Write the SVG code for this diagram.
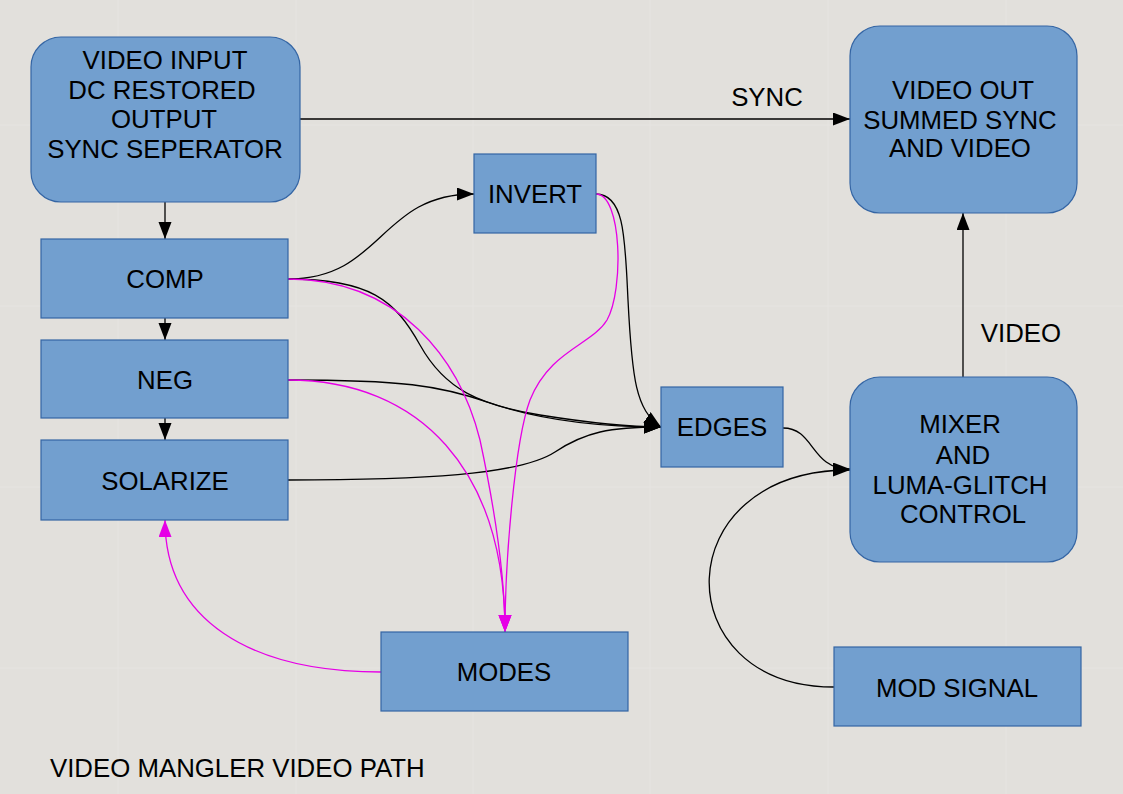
<svg xmlns="http://www.w3.org/2000/svg" width="1123" height="794" viewBox="0 0 1123 794">
<defs>
<style>
.bg{fill:#e2e0dc}
.grid{stroke:#f2f1ef;stroke-width:1;opacity:0.3}
.box{fill:#729fcf;stroke:#3465a4;stroke-width:1.2}
.t{font-family:"Liberation Sans",Arial,sans-serif;font-size:25.8px;fill:#000;text-anchor:middle}
.tl{font-family:"Liberation Sans",Arial,sans-serif;font-size:25.8px;fill:#000}
.k{fill:none;stroke:#000;stroke-width:1.3}
.m{fill:none;stroke:#e600e6;stroke-width:1.3}
</style>
<marker id="ak" markerUnits="userSpaceOnUse" markerWidth="18" markerHeight="14" refX="17" refY="6.5" orient="auto"><path d="M0,0 L17,6.5 L0,13 z" fill="#000"/></marker>
<marker id="am" markerUnits="userSpaceOnUse" markerWidth="18" markerHeight="14" refX="17" refY="6.5" orient="auto"><path d="M0,0 L17,6.5 L0,13 z" fill="#e600e6"/></marker>
</defs>
<rect class="bg" x="0" y="0" width="1123" height="794"/>
<g id="texture">
<path class="grid" d="M118,0V794M296,0V794M473,0V794M650,0V794M828,0V794M1006,0V794M0,125H1123M0,306H1123M0,487H1123M0,668H1123"/>
</g>
<g id="connectors">
<path class="k" d="M165,202 V239" marker-end="url(#ak)"/>
<path class="k" d="M165,318 V340" marker-end="url(#ak)"/>
<path class="k" d="M165,418 V440" marker-end="url(#ak)"/>
<path class="k" d="M300,119 H850" marker-end="url(#ak)"/>
<path class="k" d="M963,377 V213" marker-end="url(#ak)"/>
<path class="k" d="M288,279 C383,279 379,194 474,194" marker-end="url(#ak)"/>
<path class="k" d="M288,279 C370,279 395,300 420,345 C445,390 480,405 540,415 C590,423 630,427 661,427" marker-end="url(#ak)"/>
<path class="k" d="M288,380 C400,380 440,385 490,403 C540,420 600,427 661,427" marker-end="url(#ak)"/>
<path class="k" d="M288,480 C420,480 520,475 555,452 C585,432 610,427 661,427" marker-end="url(#ak)"/>
<path class="k" d="M596,194 C625,194 625,240 628,300 C632,380 636,410 661,427" marker-end="url(#ak)"/>
<path class="m" d="M596,194 C622,194 624,290 607,320 C592,345 550,350 530,400 C515,440 505,560 505,632" marker-end="url(#am)"/>
<path class="m" d="M288,279 C400,279 460,360 480,440 C495,510 505,580 505,632" marker-end="url(#am)"/>
<path class="m" d="M288,380 C420,380 505,470 505,632" marker-end="url(#am)"/>
<path class="m" d="M381,672 C250,672 165,620 165,520" marker-end="url(#am)"/>
<path class="k" d="M783,428 C815,428 810,469 850,469" marker-end="url(#ak)"/>
<path class="k" d="M834,687 C665,687 665,470 850,470" marker-end="url(#ak)"/>
<text class="t" x="767" y="106">SYNC</text>
<text class="t" x="1021" y="342">VIDEO</text>
</g>
<g id="video-input">
<rect class="box" x="31" y="37" width="269" height="165" rx="30"/>
<text class="t" x="165" y="69">VIDEO INPUT</text>
<text class="t" x="162" y="99">DC RESTORED</text>
<text class="t" x="164" y="128">OUTPUT</text>
<text class="t" x="165" y="158">SYNC SEPERATOR</text>
</g>
<g id="video-out">
<rect class="box" x="850" y="26" width="227" height="187" rx="30"/>
<text class="t" x="963" y="99">VIDEO OUT</text>
<text class="t" x="960" y="129">SUMMED SYNC</text>
<text class="t" x="960" y="157">AND VIDEO</text>
</g>
<g id="comp">
<rect class="box" x="41" y="239" width="247" height="79"/>
<text class="t" x="165" y="288">COMP</text>
</g>
<g id="neg">
<rect class="box" x="41" y="340" width="247" height="78"/>
<text class="t" x="165" y="389">NEG</text>
</g>
<g id="solarize">
<rect class="box" x="41" y="440" width="247" height="80"/>
<text class="t" x="165" y="490">SOLARIZE</text>
</g>
<g id="invert">
<rect class="box" x="474" y="154" width="122" height="79"/>
<text class="t" x="535" y="203">INVERT</text>
</g>
<g id="edges">
<rect class="box" x="661" y="387" width="122" height="80"/>
<text class="t" x="722" y="436">EDGES</text>
</g>
<g id="mixer">
<rect class="box" x="850" y="377" width="227" height="185" rx="30"/>
<text class="t" x="960" y="433">MIXER</text>
<text class="t" x="963" y="464">AND</text>
<text class="t" x="960" y="494">LUMA-GLITCH</text>
<text class="t" x="963" y="523">CONTROL</text>
</g>
<g id="modes">
<rect class="box" x="381" y="632" width="247" height="79"/>
<text class="t" x="504" y="681">MODES</text>
</g>
<g id="mod-signal">
<rect class="box" x="834" y="647" width="247" height="79"/>
<text class="t" x="957" y="697">MOD SIGNAL</text>
</g>
<g id="title">
<text class="tl" x="50" y="777">VIDEO MANGLER VIDEO PATH</text>
</g>
</svg>
